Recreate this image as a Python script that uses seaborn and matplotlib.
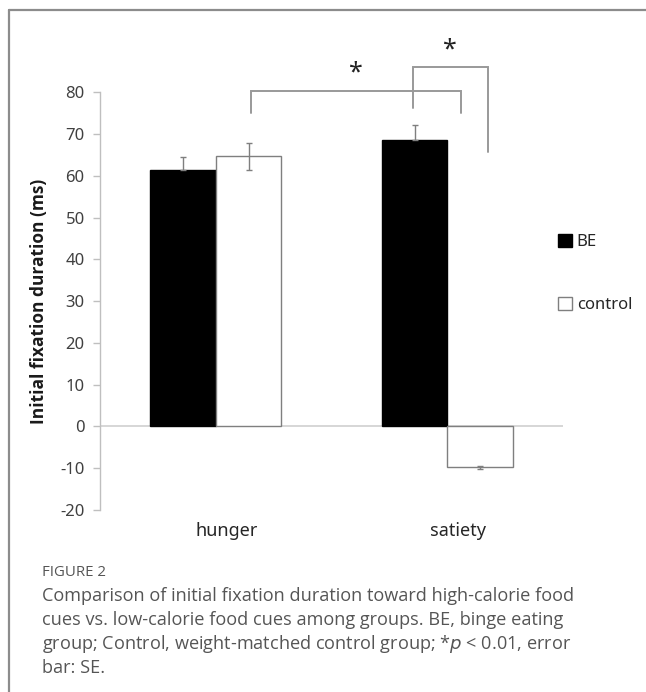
import pandas as pd
import matplotlib.pyplot as plt
import matplotlib.transforms as mtransforms
import seaborn as sns
from matplotlib.patches import Patch

# values
conditions = ["hunger", "satiety"]
groups = ["BE", "control"]
be_means = [61.4, 68.6]
be_se = [3.2, 3.6]
control_means = [64.7, -9.8]
control_se = [3.2, 0.3]

# significance brackets: (x left, x right, y top, y left end, y right end), data units
brackets = [(0.15, 1.06, 80.3, 75.0, 75.0),
            (0.85, 1.175, 86.1, 76.2, 65.6)]
star_y = [84.7, 90.1]

df = pd.DataFrame({
    "condition": conditions * 2,
    "group": ["BE"] * 2 + ["control"] * 2,
    "duration": be_means + control_means,
    "se": be_se + control_se,
})

sns.set_style("white")
plt.rcParams['font.family'] = ['Noto Sans', 'DejaVu Sans']
plt.rcParams['axes.unicode_minus'] = False

fig = plt.figure(figsize=(6.46, 6.92), dpi=100)
ax = fig.add_axes([0.1548, 0.263, 0.717, 0.6036])

sns.barplot(data=df, x="condition", y="duration", hue="group",
            order=conditions, hue_order=groups,
            palette={"BE": "black", "control": "white"},
            width=0.565, errorbar=None, legend=False, ax=ax,
            edgecolor="#7f7f7f", linewidth=1.0, saturation=1)

# BE bars have no visible outline
for p in ax.patches[:2]:
    p.set_edgecolor("black")

# error bars (upper side for BE bars, both sides for control)
for p, (_, row) in zip(ax.patches, df.iterrows()):
    cx = p.get_x() + p.get_width() / 2
    if row["group"] == "BE":
        yerr = [[0], [row["se"]]]
    else:
        yerr = [[row["se"]], [row["se"]]]
    ax.errorbar(cx, row["duration"], yerr=yerr, fmt="none",
                ecolor="#7f7f7f", elinewidth=1.0, capsize=2.5, capthick=1.0)

ax.axhline(0, color="#d0d0d0", lw=1.2, zorder=0.5)
ax.set_xlim(-0.5, 1.5)
ax.set_ylim(-20, 80)
ax.set_yticks(range(-20, 81, 10))

sns.despine(ax=ax, top=True, right=True, bottom=True)
ax.spines["left"].set_color("#bfbfbf")
ax.spines["left"].set_linewidth(1.0)
ax.tick_params(axis="y", left=True, length=5, width=1.0, color="#bfbfbf",
               labelsize=12, labelcolor="#404040", pad=6)
ax.tick_params(axis="x", bottom=False, labelsize=13, labelcolor="#262626", pad=5)
# category labels sit a little right of the group centres
shift = mtransforms.ScaledTranslation(11 / 100, 0, fig.dpi_scale_trans)
for lab in ax.get_xticklabels():
    lab.set_transform(lab.get_transform() + shift)
ax.set_xlabel("")
ax.set_ylabel("Initial fixation duration (ms)", fontsize=12.5,
              fontweight="bold", color="#1a1a1a", labelpad=9,
              family=["Open Sans", "DejaVu Sans"])

# significance brackets
for (x0, x1, ytop, yl, yr), sy in zip(brackets, star_y):
    ax.plot([x0, x0, x1, x1], [yl, ytop, ytop, yr], color="#999999",
            lw=1.4, clip_on=False, solid_joinstyle="miter")
    ax.text((x0 + x1) / 2, sy, "*", ha="center", va="center",
            fontsize=18, color="#222222", clip_on=False)

# legend
handles = [Patch(facecolor="black", edgecolor="black", label="BE"),
           Patch(facecolor="white", edgecolor="#7f7f7f", label="control")]
fig.legend(handles=handles, loc="center left", bbox_to_anchor=(0.84, 0.605),
           frameon=False, fontsize=12, labelspacing=2.8,
           handlelength=0.85, handleheight=0.85, handletextpad=0.3,
           labelcolor="#262626")

# frame around the figure panel
frame_color = "#8c8c8c"
fig.add_artist(plt.Line2D([9 / 646, 1.0], [1 - 10 / 692] * 2,
                          color=frame_color, lw=1.6))
fig.add_artist(plt.Line2D([9 / 646] * 2, [0.0, 1 - 10 / 692],
                          color=frame_color, lw=1.6))

# caption
cap_x = 42 / 646
fig.text(cap_x, 1 - 572 / 692, "FIGURE 2", fontsize=10.8, color="#555555",
         family=["Open Sans", "DejaVu Sans"], va="center")
caption = ["Comparison of initial fixation duration toward high-calorie food",
           "cues vs. low-calorie food cues among groups. BE, binge eating",
           "group; Control, weight-matched control group; *$\\it{p}$ < 0.01, error",
           "bar: SE."]
for i, line in enumerate(caption):
    fig.text(cap_x, 1 - (596 + i * 24) / 692, line, fontsize=13.1,
             color="#555555", family=["Open Sans", "DejaVu Sans"], va="center")

fig.savefig("out.png", dpi=100)
